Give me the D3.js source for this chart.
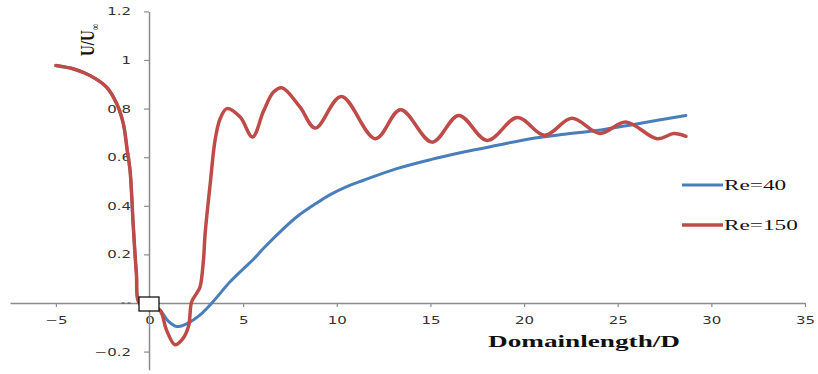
<!DOCTYPE html>
<html>
<head>
<meta charset="utf-8">
<script src="https://cdn.jsdelivr.net/npm/d3@7"></script>
<style>
  html, body { margin: 0; padding: 0; background: #fff; }
  svg { display: block; }
</style>
</head>
<body>
<svg id="chart" width="818" height="374"></svg>
<script>
// Streamwise velocity along the wake centreline, U/U∞ vs x/D
const seriesNames = ["Re=40", "Re=150"];
const seriesColors = ["#4A7EBB", "#BE4B48"];

const re40X = [-5, -4, -3.18, -2.29, -1.75, -1.4, -1.19, -1.04, -0.87, -0.7, -0.55, 0, 0.56, 1.0, 1.45, 2.0, 2.7, 3.33, 4.3, 5, 5.55, 6.09, 7, 7.87, 8.9, 9.65, 10.5, 11.43, 13.2, 15, 16.78, 18.57, 20.35, 22, 24.1, 26, 28.64];
const re40Y = [0.977, 0.962, 0.936, 0.888, 0.82, 0.738, 0.628, 0.546, 0.32, 0.12, 0.0, -0.01, -0.03, -0.075, -0.097, -0.085, -0.049, 0.0, 0.087, 0.14, 0.18, 0.225, 0.295, 0.355, 0.41, 0.446, 0.478, 0.505, 0.553, 0.59, 0.621, 0.649, 0.676, 0.693, 0.712, 0.737, 0.772];

const re150X = [-5, -4, -3.18, -2.29, -1.75, -1.4, -1.19, -1.04, -0.87, -0.7, -0.55, 0, 0.56, 0.9, 1.36, 1.75, 2.08, 2.25, 2.52, 2.7, 2.88, 2.97, 3.24, 3.5, 3.77, 4.13, 4.84, 5.5, 6.09, 6.62, 7.07, 8.04, 8.85, 10.24, 12.06, 13.4, 15.09, 16.51, 18.03, 19.64, 21.1, 22.55, 24.05, 25.43, 27.1, 28.0, 28.64];
const re150Y = [0.977, 0.962, 0.936, 0.888, 0.82, 0.738, 0.628, 0.546, 0.32, 0.12, 0.0, -0.01, -0.03, -0.11, -0.172, -0.15, -0.097, 0.005, 0.04, 0.067, 0.177, 0.286, 0.49, 0.67, 0.758, 0.8, 0.765, 0.683, 0.79, 0.868, 0.886, 0.806, 0.72, 0.85, 0.676, 0.795, 0.662, 0.772, 0.669, 0.763, 0.69, 0.76, 0.698, 0.745, 0.676, 0.697, 0.686];

const xTicks = [-5, 0, 5, 10, 15, 20, 25, 30, 35];
const yTicks = [-0.2, 0.2, 0.4, 0.6, 0.8, 1, 1.2];

const svg = d3.select("#chart");
const axisColor = "#8c8c8c";
const labelColor = "#333";
const stretch = 1.5;

const x = d3.scaleLinear().domain([-7.45, 35]).range([10, 805]);
const y = d3.scaleLinear().domain([-0.275, 1.2]).range([369.8, 11.4]);

// x axis through y = 0
const gx = svg.append("g")
  .attr("transform", `translate(0,${y(0)})`)
  .call(d3.axisBottom(x).tickValues(xTicks).tickSize(4).tickSizeOuter(0).tickFormat(d3.format("d")));
gx.select(".domain").attr("stroke", axisColor).attr("stroke-width", 1.5);
gx.selectAll(".tick line").attr("stroke", axisColor).attr("stroke-width", 1.2);
gx.selectAll(".tick text")
  .attr("y", 0).attr("dy", null)
  .attr("transform", `translate(0,21) scale(${stretch},1)`)
  .attr("fill", labelColor)
  .style("font-family", "'DejaVu Sans', Verdana, sans-serif")
  .style("font-size", "10px");

// y axis through x = 0
const gy = svg.append("g")
  .attr("transform", `translate(${x(0) - 0.5},0)`)
  .call(d3.axisLeft(y).tickValues(yTicks).tickSize(5).tickSizeOuter(0).tickFormat(d => d3.format("")(d)));
gy.select(".domain").attr("stroke", axisColor).attr("stroke-width", 1.5);
gy.selectAll(".tick line").attr("stroke", axisColor).attr("stroke-width", 1.2);
gy.selectAll(".tick text")
  .attr("x", 0).attr("dy", "0.35em")
  .attr("transform", `translate(-18,0) scale(${stretch},1)`)
  .attr("fill", labelColor)
  .style("font-family", "'DejaVu Sans', Verdana, sans-serif")
  .style("font-size", "10px");

// leftover dotted marks beside the origin
svg.append("line")
  .attr("x1", x(0) - 28).attr("x2", x(0) - 18)
  .attr("y1", y(0)).attr("y2", y(0))
  .attr("stroke", "#444").attr("stroke-width", 1.2)
  .attr("stroke-dasharray", "3,3");

// smoothed curves
const line = d3.line()
  .x(d => x(d[0]))
  .y(d => y(d[1]))
  .curve(d3.curveCatmullRom.alpha(0.5));

const series = [
  { name: seriesNames[0], color: seriesColors[0], width: 3, pts: d3.zip(re40X, re40Y) },
  { name: seriesNames[1], color: seriesColors[1], width: 3.5, pts: d3.zip(re150X, re150Y) }
];

svg.append("g").selectAll("path")
  .data(series)
  .join("path")
  .attr("d", d => line(d.pts))
  .attr("fill", "none")
  .attr("stroke", d => d.color)
  .attr("stroke-width", d => d.width)
  .attr("stroke-linejoin", "round")
  .attr("stroke-linecap", "round");

// origin marker
svg.append("rect")
  .attr("x", 139).attr("y", 297)
  .attr("width", 20).attr("height", 14)
  .attr("fill", "#fff").attr("stroke", "#000").attr("stroke-width", 1.2);

// legend
const legendY = [185, 225];
const lg = svg.append("g").selectAll("g")
  .data(series)
  .join("g")
  .attr("transform", (d, i) => `translate(682,${legendY[i]})`);
lg.append("line")
  .attr("x1", 0).attr("x2", 41).attr("y1", 0).attr("y2", 0)
  .attr("stroke", d => d.color).attr("stroke-width", d => d.width);
lg.append("text")
  .attr("transform", `translate(42,4.5) scale(1.55,1)`)
  .attr("fill", "#111")
  .style("font-family", "'Liberation Serif', 'Times New Roman', serif")
  .style("font-size", "15px")
  .text(d => d.name);

// axis titles
svg.append("text")
  .attr("x", 488).attr("y", 347)
  .attr("textLength", 192).attr("lengthAdjust", "spacingAndGlyphs")
  .attr("fill", "#111")
  .style("font-family", "'Liberation Serif', 'Times New Roman', serif")
  .style("font-weight", "bold")
  .style("font-size", "16px")
  .text("Domainlength/D");

const yt = svg.append("text")
  .attr("transform", "translate(94,56) rotate(-90) scale(1,1.3)")
  .attr("fill", "#111")
  .style("font-family", "'Liberation Serif', 'Times New Roman', serif")
  .style("font-weight", "bold")
  .style("font-size", "15px");
yt.append("tspan").text("U/U");
yt.append("tspan").attr("dy", 4).style("font-size", "9px").style("font-weight", "normal").text("∞");
</script>
</body>
</html>
